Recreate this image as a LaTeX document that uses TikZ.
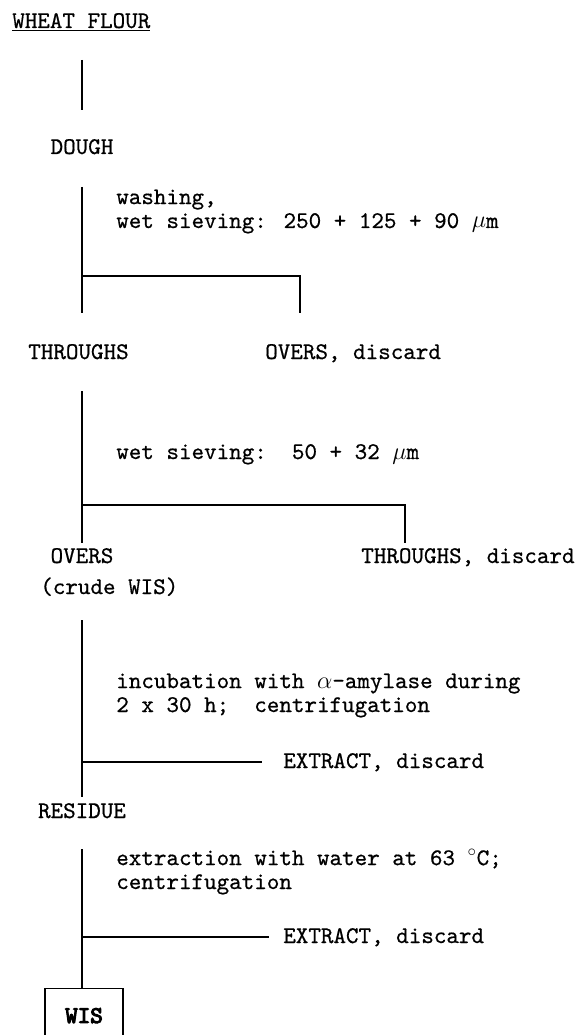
\documentclass[tikz,border=0pt]{standalone}
\usepackage{fontspec}
\newfontfamily\typefont{lmmono10-regular.otf}[FakeBold=0.6]
\newfontfamily\typebold{lmmono10-regular.otf}[FakeBold=4.5]
\usetikzlibrary{positioning}
\begin{document}
\begin{tikzpicture}[
         stage/.style = {font=\typefont\fontsize{17pt}{17pt}\selectfont, inner sep=0pt},
         treat/.style = {stage, align=left},
         flow/.style = {line width=0.8pt},
         product/.style = {draw, line width=0.9pt, inner sep=0pt,
         font=\typebold\fontsize{17pt}{17pt}\selectfont,
         minimum width=1.95cm, minimum height=1.35cm}
]
   \useasboundingbox (0,0) rectangle (14.5,-25.875);
   \clip (0,0) rectangle (14.5,-25.875);

   % flour -> dough
   \node[stage, anchor=base west] (flour) at (0.30,-0.70) {\underline{WHEAT FLOUR}};
   \coordinate[below right=0.80cm and 1.75cm of flour.base west] (f1);
   \coordinate[below=1.25cm of f1] (f2);
   \node[below=1.10cm of f2, stage, anchor=base] (dough) {DOUGH};

   % washing, first sieving
   \coordinate[below=0.825cm of dough.base] (d1);
   \coordinate[below=2.225cm of d1] (d2);
   \coordinate[right=5.45cm of d2] (d3);
   \coordinate[below=0.925cm of d2] (d4);
   \coordinate[below=0.925cm of d3] (d5);
   \node[below right=1.025cm and 0.85cm of d1, treat, anchor=base west] (wash)
      {washing,\\wet sieving: 250 + 125 + 90 $\mu$m};
   \node[below left=1.15cm and 1.35cm of d4, stage, anchor=base west] (throughs) {THROUGHS};
   \node[below left=1.15cm and 0.875cm of d5, stage, anchor=base west] (overs1) {OVERS, discard};

   % second sieving
   \coordinate[below right=0.80cm and 1.35cm of throughs.base west] (e1);
   \coordinate[below=2.85cm of e1] (e2);
   \coordinate[right=8.075cm of e2] (e3);
   \coordinate[below=0.95cm of e2] (e4);
   \coordinate[below=0.95cm of e3] (e5);
   \node[below right=1.70cm and 0.85cm of e1, treat, anchor=base west] (sieve)
      {wet sieving:\ \ 50 + 32 $\mu$m};
   \node[below=0.50cm of e4, stage, anchor=base] (overs) {OVERS};
   \node[below left=0.775cm and 1.05cm of overs.base, stage, anchor=base west] (crude) {(crude WIS)};
   \node[below left=0.50cm and 1.10cm of e5, stage, anchor=base west] (throughs2) {THROUGHS, discard};

   % amylase
   \coordinate[below right=0.65cm and 1.05cm of crude.base west] (g1);
   \coordinate[below=3.55cm of g1] (g2);
   \coordinate[right=4.5cm of g2] (g3);
   \coordinate[below=0.875cm of g2] (g4);
   \node[below right=2.30cm and 0.85cm of g1, treat, anchor=base west] (incub)
      {incubation with $\alpha$-amylase during\\2 x 30 h;\ \ centrifugation};
   \node[below right=0.15cm and 0.525cm of g3, stage, anchor=base west] (extract1) {EXTRACT, discard};
   \node[below=0.525cm of g4, stage, anchor=base] (residue) {RESIDUE};

   % hot water
   \coordinate[below=0.775cm of residue.base] (h1);
   \coordinate[below=2.20cm of h1] (h2);
   \coordinate[right=4.675cm of h2] (h3);
   \node[below right=1.00cm and 0.85cm of h1, treat, anchor=base west] (water)
      {extraction with water at 63 $^{\circ}$C;\\centrifugation};
   \node[below right=0.15cm and 0.35cm of h3, stage, anchor=base west] (extract2) {EXTRACT, discard};
   \node[below=1.275cm of h2, product, anchor=north, xshift=0.05cm] (wis) {WIS};

   \draw[flow] (f1) -- (f2);
   \draw[flow] (d1) -- (d4);
   \draw[flow] (d2) -- (d3) -- (d5);
   \draw[flow] (e1) -- (e4);
   \draw[flow] (e2) -- (e3) -- (e5);
   \draw[flow] (g1) -- (g4);
   \draw[flow] (g2) -- (g3);
   \draw[flow] (h1) -- (h1 |- wis.north);
   \draw[flow] (h2) -- (h3);
\end{tikzpicture}
\end{document}
